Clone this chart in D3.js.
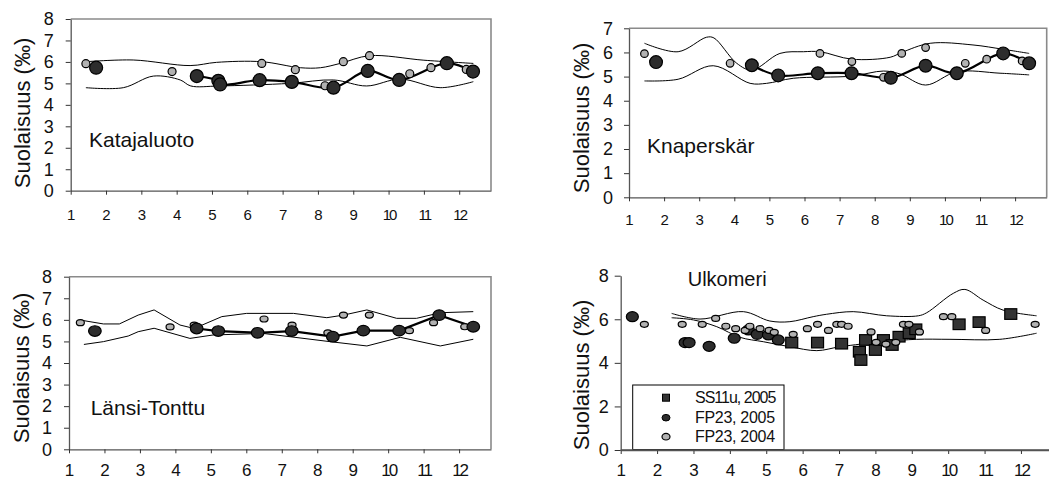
<!DOCTYPE html>
<html>
<head>
<meta charset="utf-8">
<script src="https://cdnjs.cloudflare.com/ajax/libs/d3/7.8.5/d3.min.js"></script>
<style>
  html, body { margin: 0; padding: 0; background: #fff; }
  svg { display: block; font-family: "Liberation Sans", Arial, sans-serif; }
</style>
</head>
<body>
<svg id="chart" width="1049" height="480"></svg>
<script>
// Month tick labels shared by all four panels
const months = [1, 2, 3, 4, 5, 6, 7, 8, 9, 10, 11, 12];

// Katajaluoto: [month, salinity ‰]
const kataUpper = [[1.43,6.01],[2.77,6.09],[4.38,5.83],[5.13,5.98],[6.41,6.01],[7.5,5.73],[8.07,5.73],[8.63,5.93],[9.46,6.29],[11.0,6.08],[12.4,5.93]];
const kataLower = [[1.43,4.8],[2.49,4.8],[3.34,5.34],[4.1,5.16],[4.4,4.88],[5.2,4.88],[7.2,5.0],[8.44,5.16],[9.38,4.88],[10.33,5.2],[11.46,4.8],[12.4,5.08]];
const kata2004 = [[1.43,5.92],[3.87,5.55],[6.41,5.93],[7.36,5.64],[8.2,4.89],[8.72,6.01],[9.46,6.29],[10.6,5.45],[11.2,5.73],[12.2,5.65]];
const kata2005 = [[1.72,5.73],[4.57,5.34],[5.18,5.12],[5.23,4.95],[6.35,5.15],[7.26,5.07],[8.44,4.8],[9.41,5.58],[10.3,5.16],[11.65,5.94],[12.39,5.55]];

// Knaperskär
const knapUpper = [[1.44,6.38],[2.4,6.03],[3.21,6.63],[3.42,6.6],[4.07,5.55],[4.5,5.27],[5.3,5.96],[5.97,6.03],[6.44,6.03],[7.35,5.72],[8.44,5.8],[8.77,6.0],[9.58,6.38],[10.8,6.31],[11.66,6.13],[12.4,5.96]];
const knapLower = [[1.44,4.82],[2.4,4.89],[3.4,5.45],[4.45,4.72],[4.92,4.72],[5.68,4.93],[7.35,5.02],[8.25,5.23],[8.72,5.11],[9.45,4.65],[10.34,5.2],[11.57,5.14],[12.4,5.07]];
const knap2004 = [[1.44,5.95],[3.88,5.55],[6.44,5.96],[7.35,5.62],[8.25,4.97],[8.77,5.96],[9.45,6.2],[10.58,5.55],[11.19,5.72],[12.2,5.65]];
const knap2005 = [[1.77,5.6],[4.5,5.47],[5.25,5.05],[6.38,5.14],[7.34,5.14],[8.46,4.95],[9.45,5.45],[10.34,5.14],[11.66,5.96],[12.4,5.55]];

// Länsi-Tonttu
const lansiUpper = [[1.32,5.99],[1.97,5.81],[2.42,5.81],[2.95,6.22],[3.4,6.46],[4.13,5.76],[4.53,5.6],[5.31,6.15],[6.01,6.3],[7.33,6.3],[8.27,6.1],[8.74,6.22],[9.4,6.46],[10.24,6.07],[10.8,6.07],[11.47,6.33],[12.4,6.38]];
const lansiLower = [[1.42,4.86],[1.97,4.99],[2.67,5.25],[2.95,5.45],[3.4,5.61],[4.41,5.14],[5.07,5.3],[6.48,5.37],[8.36,4.99],[9.4,4.79],[10.34,5.19],[11.47,4.79],[12.4,5.1]];
const lansi2004 = [[1.32,5.87],[3.85,5.67],[4.53,5.76],[6.5,6.04],[7.29,5.76],[8.3,5.4],[8.74,6.22],[9.47,6.22],[10.6,5.5],[11.28,5.87],[12.16,5.68]];
const lansi2005 = [[1.73,5.48],[4.6,5.6],[5.21,5.48],[6.32,5.4],[7.28,5.48],[8.44,5.22],[9.3,5.5],[10.31,5.5],[11.44,6.22],[12.4,5.68]];

// Ulkomeri
const ulkoUpper = [[2.4,6.27],[3.18,6.01],[4.37,6.35],[5.1,5.92],[5.65,5.89],[6.29,6.12],[6.66,6.23],[7.39,6.35],[8.31,6.16],[9.18,6.16],[9.41,6.3],[10.14,7.19],[10.46,7.37],[10.96,6.88],[11.51,6.42],[12.43,6.16]];
const ulkoLower = [[2.4,6.07],[3.0,5.97],[3.64,5.66],[4.28,5.17],[4.92,4.97],[5.65,4.74],[6.39,4.56],[7.03,4.74],[8.22,4.97],[9.13,5.08],[10.05,5.08],[11.42,5.08],[12.43,5.36]];
const ulkoSS11u2005 = [[5.7,4.93],[6.41,4.93],[7.07,4.88],[7.56,4.51],[7.6,4.13],[7.73,5.05],[8.0,4.59],[8.22,5.05],[8.46,4.82],[8.65,5.2],[8.93,5.36],[9.11,5.54],[10.3,5.77],[10.85,5.87],[11.72,6.24]];
const ulkoFP23_2005 = [[1.32,6.12],[2.77,4.93],[2.88,4.93],[3.43,4.76],[4.12,5.13],[4.51,5.51],[4.75,5.31],[5.06,5.28],[5.33,5.05]];
const ulkoFP23_2004 = [[1.65,5.77],[2.69,5.77],[3.24,5.77],[3.61,6.04],[3.89,5.68],[4.16,5.57],[4.42,5.49],[4.55,5.68],[4.83,5.57],[5.08,5.49],[5.22,5.4],[5.74,5.31],[6.13,5.57],[6.41,5.77],[6.71,5.49],[6.94,5.77],[7.07,5.77],[7.25,5.68],[7.88,5.42],[8.02,4.94],[8.29,4.86],[8.56,4.94],[8.77,5.77],[8.92,5.77],[9.21,5.42],[9.87,6.12],[10.1,6.12],[11.03,5.49],[12.39,5.77]];

const legendLabels = ["SS11u, 2005", "FP23, 2005", "FP23, 2004"];
const yTitle = "Suolaisuus (‰)";

const DARK = "#2d2d2d", LIGHT = "#b2b2b2", SQUARE = "#333333";
const svg = d3.select("#chart");

function panel(cfg) {
  const x = d3.scaleLinear().domain([1, 12.9]).range([cfg.left, cfg.right]);
  const y = d3.scaleLinear().domain([0, cfg.yMax]).range([cfg.bottom, cfg.top]);
  const g = svg.append("g");

  // plot frame (top and right edges)
  if (cfg.frame) {
    g.append("path")
      .attr("d", `M${cfg.left},${cfg.top}H${cfg.right}V${cfg.bottom}`)
      .attr("fill", "none").attr("stroke", "#8a8a8a").attr("stroke-width", 1.6);
  }

  // y axis
  const ya = g.append("g").attr("transform", `translate(${cfg.left},0)`)
    .call(d3.axisLeft(y).tickValues(d3.range(0, cfg.yMax + 0.001, cfg.yStep))
      .tickFormat(d3.format("d")).tickSize(cfg.yTick).tickSizeOuter(0).tickPadding(cfg.yPad));
  ya.attr("font-size", null).attr("font-family", null);
  ya.select(".domain").attr("stroke", "#555").attr("stroke-width", 1.3);
  ya.selectAll(".tick line").attr("stroke", "#333");
  ya.selectAll(".tick text").style("font-size", "18px").attr("fill", "#111")
    .style("font-family", "'Liberation Sans', Arial, sans-serif");

  // x axis
  const xa = g.append("g").attr("transform", `translate(0,${cfg.bottom})`)
    .call(d3.axisBottom(x).tickValues(months).tickSize(4).tickSizeOuter(0));
  xa.attr("font-size", null).attr("font-family", null);
  xa.select(".domain").attr("stroke", "#555").attr("stroke-width", 1.3);
  xa.selectAll(".tick line").attr("stroke", "#333");
  xa.selectAll(".tick text").style("font-size", cfg.xFont + "px").attr("fill", "#111")
    .style("font-family", "'Liberation Sans', Arial, sans-serif")
    .attr("y", cfg.xLabelY).attr("dy", 0)
    .attr("letter-spacing", d => d >= 10 ? -2 : 0);

  // y title
  g.append("text")
    .attr("transform", `translate(${cfg.titleX},${cfg.titleY}) rotate(-90)`)
    .attr("text-anchor", "middle").style("font-size", "22px").attr("fill", "#111")
    .text(yTitle);

  // station name
  g.append("text").attr("x", cfg.nameX).attr("y", cfg.nameY)
    .style("font-size", cfg.nameFont + "px").attr("fill", "#111").text(cfg.name);

  // min/max envelope
  const env = d3.line().x(d => x(d[0])).y(d => y(d[1])).curve(cfg.curve);
  [cfg.upper, cfg.lower].forEach(s => {
    g.append("path").attr("d", env(s)).attr("fill", "none")
      .attr("stroke", "#000").attr("stroke-width", 1);
  });

  return { g, x, y };
}

function ellipses(g, x, y, data, rx, ry, fill) {
  g.append("g").selectAll("ellipse").data(data).join("ellipse")
    .attr("cx", d => x(d[0])).attr("cy", d => y(d[1]))
    .attr("rx", rx).attr("ry", ry)
    .attr("fill", fill).attr("stroke", "#000").attr("stroke-width", 1.2);
}

function stationPanel(cfg, s2004, s2005, mk) {
  const { g, x, y } = panel(cfg);
  // 2005 observations joined from spring onward
  g.append("path")
    .attr("d", d3.line().x(d => x(d[0])).y(d => y(d[1])).curve(cfg.curve)(s2005.slice(1)))
    .attr("fill", "none").attr("stroke", "#000").attr("stroke-width", 2.2);
  ellipses(g, x, y, s2004, mk.lrx, mk.lry, LIGHT);
  ellipses(g, x, y, s2005, mk.drx, mk.dry, DARK);
}

const smooth = d3.curveCatmullRom.alpha(0.5);

stationPanel({
  left: 70.7, right: 491, top: 19, bottom: 190.7, yMax: 8, yStep: 1, yTick: 5, yPad: 12,
  xFont: 15, xLabelY: 29, frame: true, titleX: 29.5, titleY: 113,
  name: "Katajaluoto", nameX: 89, nameY: 146.5, nameFont: 21,
  upper: kataUpper, lower: kataLower, curve: smooth
}, kata2004, kata2005, { lrx: 4, lry: 4, drx: 6.5, dry: 6.5 });

stationPanel({
  left: 629, right: 1046.7, top: 28.3, bottom: 197.3, yMax: 7, yStep: 1, yTick: 5, yPad: 11,
  xFont: 15, xLabelY: 28, frame: true, titleX: 588.5, titleY: 118,
  name: "Knaperskär", nameX: 647, nameY: 153, nameFont: 21,
  upper: knapUpper, lower: knapLower, curve: smooth
}, knap2004, knap2005, { lrx: 3.8, lry: 3.8, drx: 6.4, dry: 6.4 });

stationPanel({
  left: 69, right: 491, top: 276.7, bottom: 449.3, yMax: 8, yStep: 1, yTick: 5, yPad: 12,
  xFont: 17, xLabelY: 26.5, frame: true, titleX: 28.5, titleY: 368,
  name: "Länsi-Tonttu", nameX: 90.7, nameY: 414.5, nameFont: 21,
  upper: lansiUpper, lower: lansiLower, curve: d3.curveLinear
}, lansi2004, lansi2005, { lrx: 4, lry: 3, drx: 6.3, dry: 5.3 });

// Ulkomeri: open-sea stations, no frame, legend in the lower left
(function () {
  const cfg = {
    left: 620.7, right: 1053.7, top: 275.7, bottom: 450, yMax: 8, yStep: 2, yTick: 6, yPad: 6,
    xFont: 17, xLabelY: 26, frame: false, titleX: 588.5, titleY: 375,
    name: "Ulkomeri", nameX: 687.7, nameY: 285.5, nameFont: 20,
    upper: ulkoUpper, lower: ulkoLower, curve: smooth
  };
  const { g, x, y } = panel(cfg);
  g.append("g").selectAll("rect").data(ulkoSS11u2005).join("rect")
    .attr("x", d => x(d[0]) - 6).attr("y", d => y(d[1]) - 5.3)
    .attr("width", 12).attr("height", 10.6)
    .attr("fill", SQUARE).attr("stroke", "#000").attr("stroke-width", 1.2);
  ellipses(g, x, y, ulkoFP23_2005, 6, 5, DARK);
  ellipses(g, x, y, ulkoFP23_2004, 4, 3, LIGHT);

  // legend
  const lg = svg.append("g");
  lg.append("rect").attr("x", 632.7).attr("y", 385).attr("width", 151.3).attr("height", 64.5)
    .attr("fill", "#fff").attr("stroke", "#000").attr("stroke-width", 1);
  const rows = [397.7, 417.7, 436.7];
  lg.append("rect").attr("x", 662.5).attr("y", rows[0] - 3.5).attr("width", 7).attr("height", 7)
    .attr("fill", SQUARE).attr("stroke", "#000");
  lg.append("ellipse").attr("cx", 666).attr("cy", rows[1]).attr("rx", 4).attr("ry", 3.3)
    .attr("fill", DARK).attr("stroke", "#000");
  lg.append("ellipse").attr("cx", 666).attr("cy", rows[2]).attr("rx", 4).attr("ry", 3.3)
    .attr("fill", LIGHT).attr("stroke", "#000").attr("stroke-width", 1.2);
  lg.selectAll("text.lab").data(legendLabels).join("text")
    .attr("class", "lab").attr("x", 695).attr("y", (d, i) => rows[i]).attr("dy", "0.36em")
    .style("font-size", "16px").attr("fill", "#111")
    .attr("letter-spacing", (d, i) => i === 0 ? -1 : -0.3).text(d => d);
  // redraw the x axis line over the legend's lower edge
  svg.append("line").attr("x1", 620.7).attr("x2", 1049).attr("y1", 450).attr("y2", 450)
    .attr("stroke", "#555").attr("stroke-width", 1.3);
})();
</script>
</body>
</html>
